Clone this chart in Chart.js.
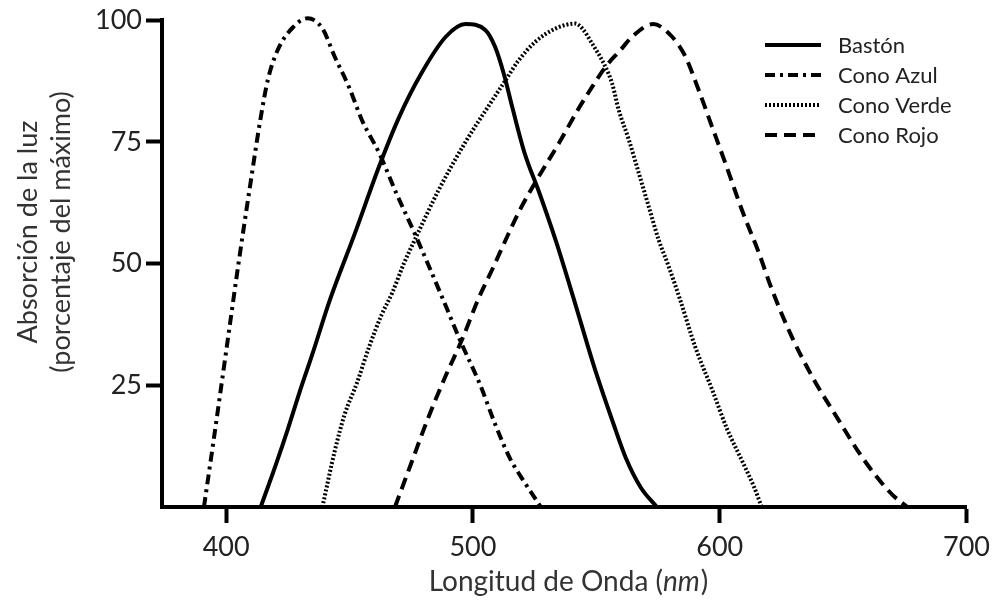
<!DOCTYPE html>
<html>
<head>
<meta charset="utf-8">
<script src="https://cdn.jsdelivr.net/npm/chart.js@4.4.0/dist/chart.umd.min.js"></script>
<style>
html, body { margin: 0; padding: 0; background: #fff; }
</style>
</head>
<body>
<canvas id="absorcion" width="998" height="601"></canvas>
<script>
// valores (longitud de onda en nm, absorcion en % del maximo)
var bastonNm  = [414, 420, 425, 430, 435, 442, 452, 462, 470, 479, 489, 497, 505, 509, 512.5, 516, 521, 527, 533.5, 541, 549, 557, 562, 568, 574.5];
var bastonVal = [0, 8.5, 16, 24, 31.5, 42.5, 56, 70, 80, 89, 96.6, 99.2, 98, 94.5, 89, 82, 72.6, 64.4, 54.8, 42.5, 29, 17, 10, 4, 0];

var azulNm  = [391, 395, 400, 405, 410, 414, 417, 421, 427, 433, 439, 444, 450, 455, 462, 469, 477, 488, 495, 503, 509, 515, 521, 527.5];
var azulVal = [0, 14, 32, 50, 67, 80, 88, 94, 98.5, 100.4, 98.3, 92.5, 86, 79.5, 72.7, 64.4, 55.5, 42.5, 34, 25, 17, 10, 5, 0];

var verdeNm  = [439, 444, 448, 453, 458, 463, 467.3, 472, 477, 486, 497, 506.5, 513, 518.6, 525.4, 533.5, 541.5, 544.3, 548.3, 553.7, 556.4, 559.1, 563.2, 567.2, 571.3, 575.3, 579.4, 584, 590, 597, 603, 609.5, 614, 617];
var verdeVal = [0, 11.5, 19, 25.5, 33, 39.5, 44, 50, 55.5, 65, 75, 82.5, 87.5, 91.8, 95.6, 98.3, 99.3, 98.3, 95.2, 90.4, 87, 81.5, 75.4, 68.6, 61.6, 54.8, 49.3, 42.5, 33, 24, 16, 9, 4, 0];

var rojoNm  = [468.4, 475, 482, 489, 495.5, 502.4, 508, 513.2, 519, 525.4, 534.8, 543, 548.3, 553.7, 560, 564.5, 573, 580.7, 586.1, 591.5, 596.9, 602.3, 609, 615.8, 621.2, 629, 638, 648, 656, 663.6, 670, 676];
var rojoVal = [0, 9, 18.5, 27, 34.3, 43, 49, 54.8, 61, 66.8, 74.7, 82, 86.3, 90.4, 94, 96.6, 99.2, 96.6, 92.5, 85.6, 78.1, 70.6, 61, 52.3, 44.6, 35.2, 26.3, 18, 11.5, 6.2, 2.5, 0];

var xTicks = [400, 500, 600, 700];
var yTicks = [25, 50, 75, 100];

function pares(nm, val) {
  return nm.map(function(x, i) { return {x: x, y: val[i]}; });
}

function serie(label, nm, val, dash) {
  return {
    label: label,
    data: pares(nm, val),
    borderColor: '#000',
    borderWidth: 4,
    borderDash: dash,
    pointRadius: 0,
    fill: false,
    cubicInterpolationMode: 'monotone',
    clip: false
  };
}

// leyenda y titulos de ejes dibujados a mano
var extras = {
  id: 'extras',
  afterDraw: function(chart) {
    var ctx = chart.ctx;
    ctx.save();
    chart.data.datasets.forEach(function(ds, i) {
      var y = 45 + i * 30;
      ctx.beginPath();
      ctx.setLineDash(ds.borderDash);
      ctx.lineWidth = 4;
      ctx.strokeStyle = '#000';
      ctx.moveTo(765, y);
      ctx.lineTo(821, y);
      ctx.stroke();
      ctx.setLineDash([]);
      ctx.fillStyle = '#222';
      ctx.font = '22px Lato';
      ctx.textBaseline = 'middle';
      ctx.textAlign = 'left';
      ctx.fillText(ds.label, 838, y + 1);
    });

    // titulo eje x con "nm" en cursiva
    ctx.fillStyle = '#333';
    ctx.textBaseline = 'middle';
    ctx.textAlign = 'left';
    var a = 'Longitud de Onda (', b = 'nm', c = ')';
    ctx.font = '28px Lato';
    var wa = ctx.measureText(a).width, wc = ctx.measureText(c).width;
    ctx.font = 'italic 28px Lato';
    var wb = ctx.measureText(b).width;
    var x0 = 568 - (wa + wb + wc) / 2, yx = 582;
    ctx.font = '28px Lato';
    ctx.fillText(a, x0, yx);
    ctx.font = 'italic 28px Lato';
    ctx.fillText(b, x0 + wa, yx);
    ctx.font = '28px Lato';
    ctx.fillText(c, x0 + wa + wb + 1, yx);

    // titulo eje y en dos lineas
    ctx.font = '27px Lato';
    ctx.textAlign = 'center';
    ctx.translate(0, 232);
    ctx.rotate(-Math.PI / 2);
    ctx.fillText('Absorción de la luz', 0, 28);
    ctx.fillText('(porcentaje del máximo)', 0, 61);
    ctx.restore();
  }
};

var ejeGrid = {
  display: true,
  drawOnChartArea: false,
  drawTicks: true,
  tickLength: 16,
  tickWidth: 4,
  tickColor: '#000'
};

var config = {
  type: 'line',
  data: {
    datasets: [
      serie('Bastón', bastonNm, bastonVal, []),
      serie('Cono Azul', azulNm, azulVal, [10, 5, 3, 5]),
      serie('Cono Verde', verdeNm, verdeVal, [2, 2]),
      serie('Cono Rojo', rojoNm, rojoVal, [12, 7])
    ]
  },
  options: {
    responsive: false,
    animation: false,
    devicePixelRatio: 1,
    layout: {
      autoPadding: false,
      padding: {left: 0, top: 20, right: 31, bottom: 0}
    },
    plugins: {
      legend: {display: false},
      tooltip: {enabled: false}
    },
    scales: {
      x: {
        type: 'linear',
        min: 374,
        max: 700,
        afterBuildTicks: function(axis) {
          axis.ticks = xTicks.map(function(v) { return {value: v}; });
        },
        afterFit: function(scale) { scale.height = 94; },
        grid: ejeGrid,
        border: {display: true, width: 4, color: '#000'},
        ticks: {
          color: '#222',
          font: {family: 'Lato', size: 27},
          padding: 8,
          maxRotation: 0
        }
      },
      y: {
        type: 'linear',
        min: 0,
        max: 100,
        afterBuildTicks: function(axis) {
          axis.ticks = yTicks.map(function(v) { return {value: v}; });
        },
        afterFit: function(scale) { scale.width = 162; },
        grid: ejeGrid,
        border: {display: true, width: 4, color: '#000'},
        ticks: {
          color: '#222',
          font: {family: 'Lato', size: 27},
          padding: 4
        }
      }
    }
  },
  plugins: [extras]
};

var ctx = document.getElementById('absorcion').getContext('2d');
new Chart(ctx, config);
</script>
</body>
</html>
